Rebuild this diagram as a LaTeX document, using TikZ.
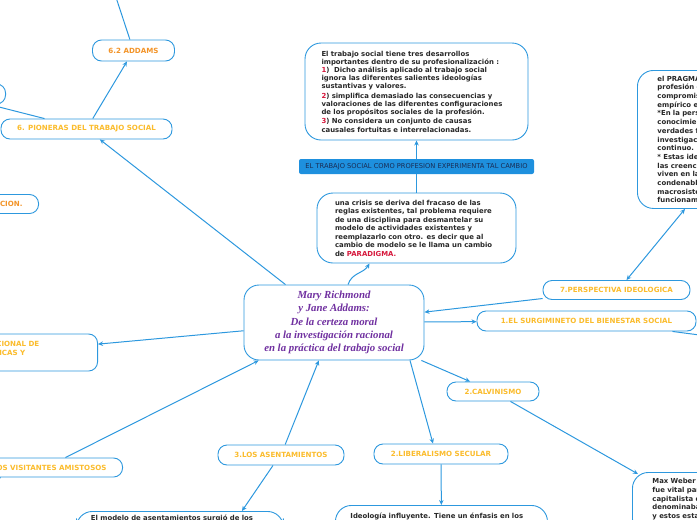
\documentclass[tikz,border=0pt]{standalone}
\usepackage{fontspec}
\setmainfont{DejaVu Sans}
\newfontfamily\titlefont{Liberation Serif}
\usetikzlibrary{arrows.meta,positioning}
\definecolor{mmblue}{RGB}{45,152,222}
\definecolor{mmbanner}{RGB}{30,144,222}
\definecolor{mmyellow}{RGB}{251,188,44}
\definecolor{mmorange}{RGB}{243,148,40}
\definecolor{mmred}{RGB}{214,24,60}
\definecolor{mmpurple}{RGB}{112,48,160}
\definecolor{mmtext}{RGB}{40,40,40}
\definecolor{mmnavy}{RGB}{25,45,85}
\newcommand{\rn}[1]{\textcolor{mmred}{#1}}

\begin{document}
\begin{tikzpicture}[x=1pt,y=-1pt,
  topic/.style={draw=mmblue, line width=0.9pt, rounded corners=9pt, fill=white, text=mmyellow,
    font=\bfseries\fontsize{7.1}{9}\selectfont, inner xsep=16pt, inner ysep=0pt, minimum height=19pt},
  note/.style={draw=mmblue, line width=0.9pt, rounded corners=16pt, fill=white, text=mmtext,
    font=\bfseries\fontsize{6.9}{8.1}\selectfont, align=left, inner xsep=0pt},
  link/.style={mmblue, line width=1pt, -{Stealth[length=5pt,width=4.5pt]}},
  plain/.style={mmblue, line width=1pt}]
\useasboundingbox (0,0) rectangle (697,520);
\clip (0,0) rectangle (697,520);

\node[draw=mmblue, line width=0.9pt, rounded corners=15pt, fill=white, minimum width=180pt, minimum height=75pt,
  align=center, text=mmpurple, font=\titlefont\bfseries\itshape\fontsize{10.8}{13.2}\selectfont] (mr) at (334,322.5)
  {Mary Richmond\\y Jane Addams:\\De la certeza moral\\a la investigación racional\\en la práctica del trabajo social};

\node[note, minimum width=223pt, minimum height=97pt, text width=190pt] (tres) at (416.5,91.5)
  {El trabajo social tiene tres desarrollos\\importantes dentro de su profesionalización :\\
   \rn{1})\ \ Dicho análisis aplicado al trabajo social\\ignora las diferentes salientes ideologías\\sustantivas y valores.\\[1.5pt]
   \rn{2}) simplifica demasiado las consecuencias y\\valoraciones de las diferentes configuraciones\\de los propósitos sociales de la profesión.\\[1.5pt]
   \rn{3}) No considera un conjunto de causas\\causales fortuitas e interrelacionadas.};
\node[fill=mmbanner, rounded corners=2pt, minimum width=235pt, minimum height=15pt, inner sep=0pt,
  text=mmnavy, font=\fontsize{6.7}{7}\selectfont] (cambio) at (416.5,166.5)
  {EL TRABAJO SOCIAL COMO PROFESION EXPERIMENTA TAL CAMBIO};
\node[note, minimum width=199pt, minimum height=70pt, text width=163pt, font=\bfseries\fontsize{6.9}{8.5}\selectfont] (crisis) at (416.5,228)
  {una crisis se deriva del fracaso de las\\reglas existentes, tal problema requiere\\de una disciplina para desmantelar su\\modelo de actividades existentes y\\reemplazarlo con otro. es decir que al\\cambio de modelo se le llama un cambio\\de \rn{PARADIGMA.}};

\node[note, anchor=north west, minimum height=138pt, text width=140pt, inner xsep=20pt, font=\bfseries\fontsize{6.9}{8.7}\selectfont] (pragma) at (637,70)
  {el PRAGMATISMO es la\\profesión de ayuda\\compromiso con lo\\empírico experimental.\\{*}En la perspectiva del\\conocimiento no hay\\verdades fijas sino\\investigación en\\continuo.\\{*} Estas ideologías son\\las creencias que\\viven en las sociedades\\condenables en los\\macrosistemas de\\funcionamiento.};
\node[topic, minimum width=147pt] (persp) at (616.5,290) {7.PERSPECTIVA IDEOLOGICA};
\node[topic, minimum width=219pt, minimum height=20pt] (surg) at (586.5,321) {1.EL SURGIMINETO DEL BIENESTAR SOCIAL};
\node[topic, minimum width=92pt] (calv) at (493,391.5) {2.CALVINISMO};
\node[note, anchor=north west, text width=140pt, inner xsep=20pt, inner ysep=6pt, font=\bfseries\fontsize{6.9}{8.7}\selectfont] (weber) at (632,472)
  {Max Weber afirma\\fue vital para el sistema\\capitalista que se\\denominaba protestante\\y estos estaban\\predestinados.};
\node[topic, minimum width=134pt, minimum height=20pt] (liberal) at (441,454) {2.LIBERALISMO SECULAR};
\node[note, anchor=north west, minimum width=212pt, text width=182pt, inner ysep=8pt] (ideol) at (335,505)
  {Ideología influyente. Tiene un énfasis en los\\derechos del individuo y su libertad.};
\node[topic, minimum width=126pt, minimum height=20pt] (asent) at (281,455) {3.LOS ASENTAMIENTOS};
\node[note, anchor=north west, minimum width=207pt, text width=178pt, inner ysep=4pt] (modelo) at (76,511)
  {El modelo de asentamientos surgió de los\\barrios pobres de las ciudades.};
\node[topic, anchor=east] (visit) at (123,467.5) {4.LOS VISITANTES AMISTOSOS};
\node[topic, anchor=east, minimum height=37pt, text width=150pt, align=left] (ional) at (98,352.5)
  {5. LA VISION RACIONAL DE\\TEORIAS CIENTIFICAS Y\\SOCIALES};
\node[topic, minimum width=171pt, minimum height=20pt] (pion) at (86.5,129) {6. PIONERAS DEL TRABAJO SOCIAL};
\node[topic, minimum width=81pt, minimum height=21pt, text=mmorange] (addams) at (133.5,50.5) {6.2 ADDAMS};
\node[topic, anchor=east, minimum height=20pt, text=mmorange] (richm) at (6,94) {6.1 RICHMOND};
\node[topic, anchor=east, text=mmorange] (cion) at (39,204) {6.2.1 LA INVESTIGACION.};
\coordinate (offT) at (107,-30);
\coordinate (offR) at (730,339);
\coordinate (offBL) at (-30,500);

\draw[link] (cambio) -- (tres);
\draw[plain] (crisis) -- (cambio);
\draw[link] ([xshift=14pt]mr.north) .. controls +(4,-12) and +(-6,10) .. ([xshift=-47pt]crisis.south);
\draw[link] (persp) -- (mr);
\draw[{Stealth[length=5pt,width=4.5pt]}-{Stealth[length=5pt,width=4.5pt]}, mmblue, line width=1pt]
  ([xshift=10pt]persp.north) -- ([xshift=48pt]pragma.south west);
\draw[link] (mr) -- (surg);
\draw[plain] ([xshift=86pt]surg.south) -- (offR);
\draw[link] (mr) -- (calv);
\draw[link] (calv) -- ([xshift=6pt,yshift=-2pt]weber.north west);
\draw[link] ([xshift=76pt]mr.south) -- ([xshift=-8pt]liberal.north);
\draw[link] (liberal) -- (ideol);
\draw[link] (asent) -- (mr);
\draw[link] ([xshift=-8pt]asent.south) -- ([xshift=62pt]modelo.north);
\draw[link] (visit) -- (mr);
\draw[plain] ([xshift=-45pt]visit.south) -- (offBL);
\draw[link] (mr) -- (ional);
\draw[link] (mr) -- (pion);
\draw[link] (pion) -- (addams);
\draw[plain] (addams) -- (offT);
\draw[plain] ([xshift=-17pt]richm.south east) -- ([xshift=-42pt]pion.north);
\end{tikzpicture}
\end{document}
